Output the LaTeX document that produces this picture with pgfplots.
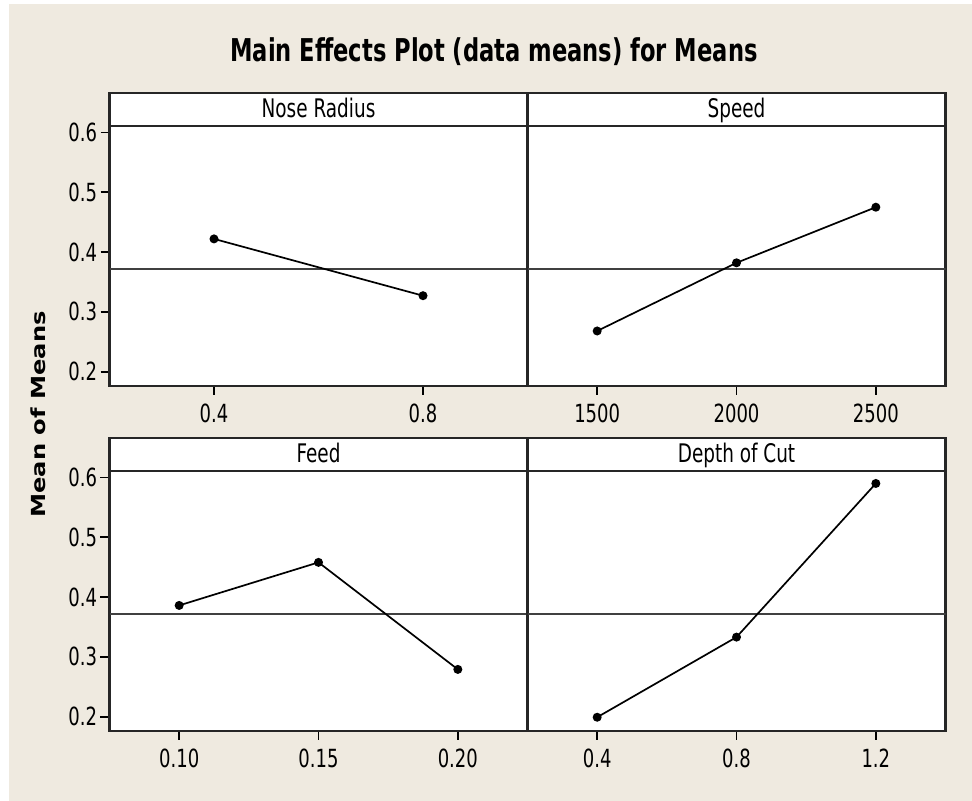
\documentclass[border=0pt]{standalone}
\usepackage{graphicx}
\usepackage{fontspec}
\setmainfont{DejaVu Sans}[FakeStretch=0.72]
\newfontfamily\ylabfont{DejaVu Sans}
\usepackage{pgfplots}
\pgfplotsset{compat=1.18}
\definecolor{bgbeige}{RGB}{239,234,224}
\pgfplotsset{
  panel/.style={
    scale only axis, width=209pt, height=146.5pt,
    anchor=south west,
    ymin=0.176, ymax=0.666,
    axis background/.style={fill=white},
    axis line style={line width=1.3pt, black!85},
    tick align=outside, major tick length=4.5pt,
    tick style={line width=0.9pt, black},
    xtick pos=bottom, ytick pos=left,
    ticklabel style={font=\fontsize{12.5}{14}\selectfont, text=black},
    /pgf/number format/assume math mode=true,
    xticklabel style={anchor=base, yshift=-14pt},
    yticklabel style={inner sep=1.5pt},
  },
  leftpanel/.style={panel, ytick={0.2,0.3,0.4,0.5,0.6}, yticklabels={0.2,0.3,0.4,0.5,0.6}},
  rightpanel/.style={panel, ytick=\empty},
  dat/.style={black, line width=0.85pt, mark=*, mark size=1.8pt, mark options={solid, fill=black}},
  refl/.style={black!75, line width=1pt},
}
\newcommand{\strip}[2]{%
  \draw[line width=1.3pt, black!85] (rel axis cs:0,0.888) -- (rel axis cs:1,0.888);
  \node[anchor=base, yshift=-#2, font=\fontsize{12.8}{14}\selectfont] at (rel axis cs:0.5,1) {#1};
}
\begin{document}
\begin{tikzpicture}
\fill[white] (0,0) rectangle (486pt,400.5pt);
\fill[bgbeige] (4.5pt,0) rectangle (486pt,398.5pt);
\node[anchor=base, font=\bfseries\fontsize{15.7}{18}\selectfont] at (247pt,369.5pt) {Main Effects Plot (data means) for Means};
\node[rotate=90, font=\ylabfont\bfseries\fontsize{12.1}{14}\selectfont] at (19pt,193.3pt) {\scalebox{1}[0.8]{Mean of Means}};

% Top-left: Nose Radius
\begin{axis}[leftpanel, at={(54.75pt,207.5pt)}, xmin=0.2, xmax=1.0,
  xtick={0.4,0.8}, xticklabels={0.4,0.8}]
\addplot[refl] coordinates {(0.2,0.372) (1.0,0.372)};
\addplot[dat] coordinates {(0.4,0.422) (0.8,0.327)};
\strip{Nose Radius}{12.5pt}
\end{axis}

% Top-right: Speed
\begin{axis}[rightpanel, at={(263.75pt,207.5pt)}, xmin=1250, xmax=2750,
  xtick={1500,2000,2500}, xticklabels={1500,2000,2500}]
\addplot[refl] coordinates {(1250,0.372) (2750,0.372)};
\addplot[dat] coordinates {(1500,0.268) (2000,0.382) (2500,0.475)};
\strip{Speed}{12.5pt}
\end{axis}

% Bottom-left: Feed
\begin{axis}[leftpanel, at={(54.75pt,35pt)}, xmin=0.075, xmax=0.225,
  xtick={0.10,0.15,0.20}, xticklabels={0.10,0.15,0.20}]
\addplot[refl] coordinates {(0.075,0.372) (0.225,0.372)};
\addplot[dat] coordinates {(0.10,0.386) (0.15,0.458) (0.20,0.279)};
\strip{Feed}{12.2pt}
\end{axis}

% Bottom-right: Depth of Cut
\begin{axis}[rightpanel, at={(263.75pt,35pt)}, xmin=0.2, xmax=1.4,
  xtick={0.4,0.8,1.2}, xticklabels={0.4,0.8,1.2}]
\addplot[refl] coordinates {(0.2,0.372) (1.4,0.372)};
\addplot[dat] coordinates {(0.4,0.199) (0.8,0.333) (1.2,0.590)};
\strip{Depth of Cut}{12.2pt}
\end{axis}

\pgfresetboundingbox
\useasboundingbox (0,0) rectangle (486pt,400.5pt);
\end{tikzpicture}
\end{document}
